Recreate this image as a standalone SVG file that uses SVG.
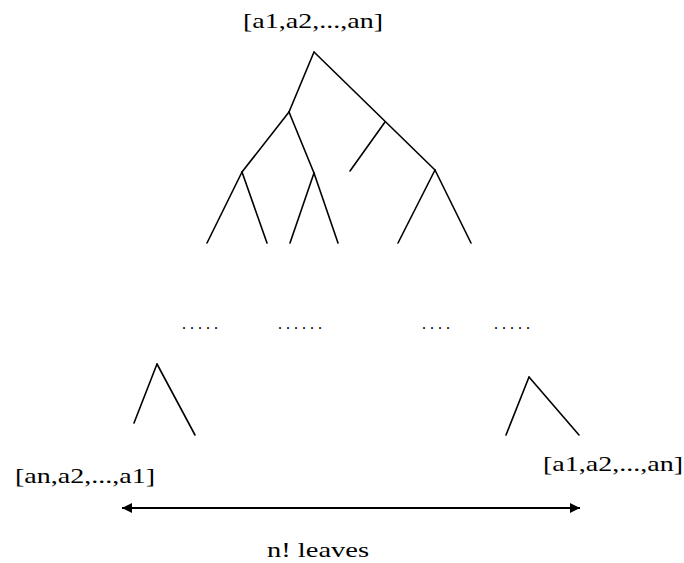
<svg xmlns="http://www.w3.org/2000/svg" width="684" height="563" viewBox="0 0 684 563">
<defs>
<style>
.e{stroke:#000;stroke-width:1.6;fill:none;stroke-linecap:round}
.t{font-family:"Liberation Serif","Times New Roman",serif;font-size:22px;fill:#000}
.d{font-family:"Liberation Serif","Times New Roman",serif;font-size:16px;fill:#000;letter-spacing:4px}
</style>
<marker id="ah" viewBox="0 0 10 10" refX="10" refY="5" markerWidth="8" markerHeight="5" markerUnits="strokeWidth" orient="auto-start-reverse">
<path d="M0,0 L10,5 L0,10 Z" fill="#000"/>
</marker>
</defs>
<rect width="684" height="563" fill="#fff"/>
<g id="labels">
<text id="root-label" class="t" x="243" y="28" textLength="140" lengthAdjust="spacingAndGlyphs">[a1,a2,...,an]</text>
<text id="left-leaf-label" class="t" x="15" y="483" textLength="140" lengthAdjust="spacingAndGlyphs">[an,a2,...,a1]</text>
<text id="right-leaf-label" class="t" x="543" y="471" textLength="140" lengthAdjust="spacingAndGlyphs">[a1,a2,...,an]</text>
<text id="leaves-label" class="t" x="267" y="557" font-size="20" textLength="102" lengthAdjust="spacingAndGlyphs">n! leaves</text>
</g>
<g id="ellipses">
<text class="d" x="182" y="329">.....</text>
<text class="d" x="278" y="329">......</text>
<text class="d" x="422" y="329">....</text>
<text class="d" x="494" y="329">.....</text>
</g>
<g id="connectors">
<path class="e" d="M314,52 L289,112"/>
<path class="e" d="M314,52 L435,170"/>
<path class="e" d="M385,122 L350,171"/>
<path class="e" d="M289,112 L242,172"/>
<path class="e" d="M289,112 L314,173"/>
<path class="e" d="M242,172 L207,243"/>
<path class="e" d="M242,172 L267,243"/>
<path class="e" d="M314,173 L290,243"/>
<path class="e" d="M314,173 L338,243"/>
<path class="e" d="M435,170 L398,243"/>
<path class="e" d="M435,170 L471,243"/>
<path class="e" d="M157,364 L134,423"/>
<path class="e" d="M157,364 L195,435"/>
<path class="e" d="M529,377 L506,435"/>
<path class="e" d="M529,377 L579,435"/>
<line x1="122" y1="508" x2="580" y2="508" stroke="#000" stroke-width="2" marker-start="url(#ah)" marker-end="url(#ah)"/>
</g>
</svg>
